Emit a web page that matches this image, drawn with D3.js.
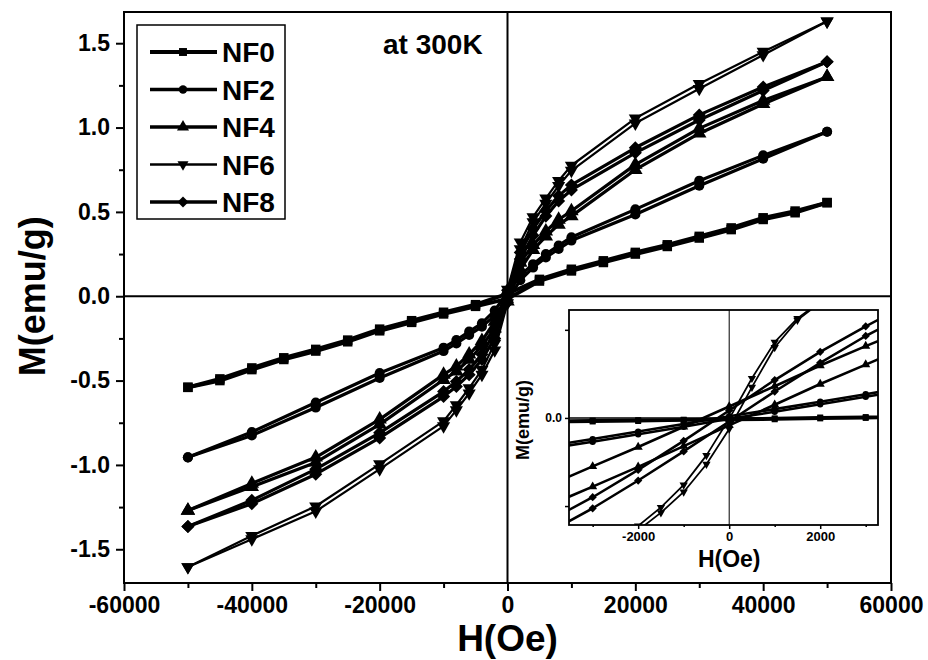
<!DOCTYPE html>
<html>
<head>
<meta charset="utf-8">
<script src="https://cdn.jsdelivr.net/npm/d3@7/dist/d3.min.js"></script>
<style>
  body { margin: 0; background: #fff; }
  text { font-family: "Liberation Sans", Arial, sans-serif; font-weight: bold; fill: #000; }
</style>
</head>
<body>
<svg id="chart" width="928" height="660"></svg>
<script>
// ---- data: M-H loops at 300 K ----
const sampleNames = ["NF0", "NF2", "NF4", "NF6", "NF8"];

// applied field (Oe), sweep order +50 kOe -> -50 kOe
const fieldNF0 = [50000, 45000, 40000, 35000, 30000, 25000, 20000, 15000, 10000, 5000, 0,
                  -5000, -10000, -15000, -20000, -25000, -30000, -35000, -40000, -45000, -50000];
const fieldMain = [50000, 40000, 30000, 20000, 10000, 8000, 6000, 4000, 2000, 0,
                   -2000, -4000, -6000, -8000, -10000, -20000, -30000, -40000, -50000];

// magnetisation (emu/g): descending branch and ascending branch
const nf0Down = [0.555, 0.505, 0.465, 0.405, 0.355, 0.305, 0.26, 0.21, 0.16, 0.10, 0.015,
                 -0.05, -0.095, -0.145, -0.195, -0.26, -0.315, -0.365, -0.425, -0.49, -0.54];
const nf0Up   = [0.555, 0.495, 0.455, 0.395, 0.345, 0.295, 0.25, 0.20, 0.15, 0.09, -0.015,
                 -0.06, -0.105, -0.155, -0.205, -0.27, -0.325, -0.375, -0.435, -0.50, -0.54];
const nf2Down = [0.975, 0.835, 0.685, 0.515, 0.35, 0.30, 0.25, 0.19, 0.125, 0.025,
                 -0.085, -0.16, -0.21, -0.26, -0.305, -0.455, -0.63, -0.805, -0.955];
const nf2Up   = [0.975, 0.815, 0.655, 0.485, 0.33, 0.28, 0.23, 0.17, 0.095, -0.025,
                 -0.115, -0.18, -0.23, -0.28, -0.325, -0.485, -0.66, -0.825, -0.955];
const nf4Down = [1.30, 1.16, 0.995, 0.78, 0.505, 0.455, 0.385, 0.305, 0.20, 0.03,
                 -0.15, -0.265, -0.345, -0.415, -0.465, -0.73, -0.955, -1.11, -1.27];
const nf4Up   = [1.30, 1.14, 0.965, 0.75, 0.475, 0.425, 0.355, 0.275, 0.16, -0.03,
                 -0.19, -0.295, -0.375, -0.445, -0.495, -0.76, -0.985, -1.13, -1.27];
const nf6Down = [1.63, 1.45, 1.26, 1.055, 0.775, 0.685, 0.58, 0.47, 0.32, 0.04,
                 -0.28, -0.435, -0.545, -0.645, -0.74, -0.995, -1.245, -1.42, -1.605];
const nf6Up   = [1.63, 1.43, 1.23, 1.025, 0.745, 0.655, 0.55, 0.44, 0.28, -0.04,
                 -0.32, -0.465, -0.575, -0.675, -0.77, -1.025, -1.275, -1.44, -1.605];
const nf8Down = [1.39, 1.24, 1.075, 0.88, 0.66, 0.595, 0.505, 0.40, 0.26, 0.035,
                 -0.21, -0.345, -0.435, -0.505, -0.565, -0.81, -1.025, -1.21, -1.365];
const nf8Up   = [1.39, 1.22, 1.045, 0.85, 0.63, 0.565, 0.475, 0.36, 0.22, -0.035,
                 -0.25, -0.375, -0.465, -0.535, -0.595, -0.84, -1.055, -1.23, -1.365];

// low-field region (inset)
const insetField    = [-4000, -3000, -2000, -1000, 0, 1000, 2000, 3000, 4000];
const insetFieldNF6 = [-2500, -2000, -1500, -1000, -500, 0, 500, 1000, 1500, 2000, 2500];
const nf0InsetDown = [-0.007, -0.006, -0.005, -0.004, -0.002, -0.001, 0.001, 0.002, 0.003];
const nf0InsetUp   = [-0.009, -0.008, -0.007, -0.005, -0.004, -0.003, -0.001, 0.000, 0.001];
const nf2InsetDown = [-0.064, -0.048, -0.031, -0.014, 0.004, 0.020, 0.037, 0.054, 0.071];
const nf2InsetUp   = [-0.070, -0.054, -0.037, -0.020, -0.002, 0.014, 0.031, 0.048, 0.065];
const nf4InsetDown = [-0.155, -0.110, -0.066, -0.020, 0.026, 0.072, 0.119, 0.163, 0.205];
const nf4InsetUp   = [-0.200, -0.156, -0.111, -0.064, -0.017, 0.030, 0.077, 0.121, 0.165];
const nf8InsetDown = [-0.235, -0.180, -0.118, -0.052, 0.017, 0.086, 0.150, 0.208, 0.262];
const nf8InsetUp   = [-0.262, -0.205, -0.142, -0.076, -0.008, 0.060, 0.125, 0.186, 0.240];
const nf6InsetDown = [-0.282, -0.245, -0.203, -0.152, -0.085, -0.002, 0.090, 0.172, 0.226, 0.264, 0.300];
const nf6InsetUp   = [-0.290, -0.255, -0.215, -0.168, -0.105, -0.025, 0.070, 0.160, 0.222, 0.262, 0.300];

// axis ticks
const xTicks = [-60000, -40000, -20000, 0, 20000, 40000, 60000];
const xMinorTicks = [-50000, -30000, -10000, 10000, 30000, 50000];
const yTicks = [-1.5, -1.0, -0.5, 0.0, 0.5, 1.0, 1.5];
const yMinorTicks = [-1.25, -0.75, -0.25, 0.25, 0.75, 1.25];
const insetXTicks = [-2000, 0, 2000];
const insetXMinorTicks = [-3000, -1000, 1000, 3000];
const insetYTicks = [-0.2, 0.0, 0.2];

// ---- series tables ----
const mainSeries = [
  { name: "NF0", field: fieldNF0,  branches: [nf0Down, nf0Up] },
  { name: "NF2", field: fieldMain, branches: [nf2Down, nf2Up] },
  { name: "NF4", field: fieldMain, branches: [nf4Down, nf4Up] },
  { name: "NF6", field: fieldMain, branches: [nf6Down, nf6Up] },
  { name: "NF8", field: fieldMain, branches: [nf8Down, nf8Up] }
];
const insetSeries = [
  { name: "NF0", field: insetField,    branches: [nf0InsetDown, nf0InsetUp] },
  { name: "NF2", field: insetField,    branches: [nf2InsetDown, nf2InsetUp] },
  { name: "NF4", field: insetField,    branches: [nf4InsetDown, nf4InsetUp] },
  { name: "NF8", field: insetField,    branches: [nf8InsetDown, nf8InsetUp] },
  { name: "NF6", field: insetFieldNF6, branches: [nf6InsetDown, nf6InsetUp] }
];

// marker styles per sample
const markerStyle = {
  NF0: { type: d3.symbolSquare,   rot: 0,   size: 90, width: 3.8 },
  NF2: { type: d3.symbolCircle,   rot: 0,   size: 80, width: 3.2 },
  NF4: { type: d3.symbolTriangle, rot: 0,   size: 90, width: 3.2 },
  NF6: { type: d3.symbolTriangle, rot: 180, size: 75, width: 2.2 },
  NF8: { type: d3.symbolSquare,   rot: 45,  size: 85, width: 3.2 }
};

const svg = d3.select("#chart");

// ---- main plot ----
const plotLeft = 124, plotRight = 891, plotTop = 12, plotBottom = 583;
const x = d3.scaleLinear().domain([-60000, 60000]).range([plotLeft, plotRight]);
const y = d3.scaleLinear().domain([-1.7, 1.685]).range([plotBottom, plotTop]);

// zero lines
svg.append("line").attr("x1", plotLeft).attr("x2", plotRight).attr("y1", y(0)).attr("y2", y(0))
  .attr("stroke", "#000").attr("stroke-width", 2);
svg.append("line").attr("x1", x(0)).attr("x2", x(0)).attr("y1", plotTop).attr("y2", plotBottom)
  .attr("stroke", "#000").attr("stroke-width", 2);

function drawSeries(group, series, xs, ys, sizeScale, widthScale) {
  const line = d3.line().x(d => xs(d[0])).y(d => ys(d[1]));
  series.forEach(s => {
    const st = markerStyle[s.name];
    s.branches.forEach(branch => {
      const pts = s.field.map((h, i) => [h, branch[i]]);
      group.append("path")
        .attr("d", line(pts))
        .attr("fill", "none")
        .attr("stroke", "#000")
        .attr("stroke-width", st.width * widthScale)
        .attr("stroke-linejoin", "round");
      group.selectAll(null).data(pts).join("path")
        .attr("transform", d => `translate(${xs(d[0])},${ys(d[1])}) rotate(${st.rot})`)
        .attr("d", d3.symbol().type(st.type).size(st.size * sizeScale))
        .attr("fill", "#000");
    });
  });
}

const mainG = svg.append("g");
drawSeries(mainG, mainSeries, x, y, 1, 1);

// axes
const xAxis = svg.append("g").attr("transform", `translate(0,${plotBottom})`)
  .call(d3.axisBottom(x).tickValues(xTicks).tickSize(8).tickPadding(6).tickFormat(d => String(d)));
svg.append("g").attr("transform", `translate(0,${plotBottom})`)
  .call(d3.axisBottom(x).tickValues(xMinorTicks).tickSize(5).tickFormat(""));
const yAxis = svg.append("g").attr("transform", `translate(${plotLeft},0)`)
  .call(d3.axisLeft(y).tickValues(yTicks).tickSize(8).tickPadding(6).tickFormat(d => d.toFixed(1)));
svg.append("g").attr("transform", `translate(${plotLeft},0)`)
  .call(d3.axisLeft(y).tickValues(yMinorTicks).tickSize(5).tickFormat(""));
svg.selectAll(".domain").remove();
svg.selectAll(".tick line").attr("stroke", "#000").attr("stroke-width", 2);
xAxis.selectAll("text").attr("font-size", 23).attr("font-family", "Liberation Sans, Arial, sans-serif");
yAxis.selectAll("text").attr("font-size", 23).attr("font-family", "Liberation Sans, Arial, sans-serif");

// frame
svg.append("rect").attr("x", plotLeft).attr("y", plotTop)
  .attr("width", plotRight - plotLeft).attr("height", plotBottom - plotTop)
  .attr("fill", "none").attr("stroke", "#000").attr("stroke-width", 2);

// axis titles
svg.append("text").attr("x", x(0)).attr("y", 651).attr("text-anchor", "middle")
  .attr("font-size", 37).text("H(Oe)");
svg.append("text").attr("transform", `translate(45,${y(0)}) rotate(-90)`).attr("text-anchor", "middle")
  .attr("font-size", 36).text("M(emu/g)");

svg.append("text").attr("x", 383).attr("y", 54).attr("font-size", 28).text("at 300K");

// ---- legend ----
const legend = svg.append("g");
legend.append("rect").attr("x", 137).attr("y", 25).attr("width", 148).attr("height", 194)
  .attr("fill", "#fff").attr("stroke", "#000").attr("stroke-width", 1.5);
const legendY = d3.scalePoint().domain(sampleNames).range([52, 202]);
sampleNames.forEach(name => {
  const st = markerStyle[name];
  const cy = legendY(name);
  legend.append("line").attr("x1", 150).attr("x2", 217).attr("y1", cy).attr("y2", cy)
    .attr("stroke", "#000").attr("stroke-width", st.width + 0.3);
  legend.append("path").attr("transform", `translate(183,${cy}) rotate(${st.rot})`)
    .attr("d", d3.symbol().type(st.type).size(st.size * 0.7)).attr("fill", "#000");
  legend.append("text").attr("x", 222).attr("y", cy + 10).attr("font-size", 28).text(name);
});

// ---- inset: low-field region ----
const iL = 569, iR = 878, iT = 310, iB = 525;
const ix = d3.scaleLinear().domain([-3520, 3270]).range([iL, iR]);
const iy = d3.scaleLinear().domain([-0.243, 0.245]).range([iB, iT]);

const inset = svg.append("g");
inset.append("rect").attr("x", iL).attr("y", iT).attr("width", iR - iL).attr("height", iB - iT)
  .attr("fill", "#fff");
svg.append("clipPath").attr("id", "insetClip").append("rect")
  .attr("x", iL).attr("y", iT).attr("width", iR - iL).attr("height", iB - iT);

const insetPlot = inset.append("g").attr("clip-path", "url(#insetClip)");
insetPlot.append("line").attr("x1", iL).attr("x2", iR).attr("y1", iy(0)).attr("y2", iy(0))
  .attr("stroke", "#000").attr("stroke-width", 1.5);
insetPlot.append("line").attr("x1", ix(0)).attr("x2", ix(0)).attr("y1", iT).attr("y2", iB)
  .attr("stroke", "#000").attr("stroke-width", 1);
drawSeries(insetPlot, insetSeries, ix, iy, 0.4, 0.8);

const ixAxis = inset.append("g").attr("transform", `translate(0,${iB})`)
  .call(d3.axisBottom(ix).tickValues(insetXTicks).tickSize(4).tickPadding(3).tickFormat(d => String(d)));
inset.append("g").attr("transform", `translate(0,${iB})`)
  .call(d3.axisBottom(ix).tickValues(insetXMinorTicks).tickSize(2).tickFormat(""));
const iyAxis = inset.append("g").attr("transform", `translate(${iL},0)`)
  .call(d3.axisLeft(iy).tickValues(insetYTicks).tickSize(4).tickPadding(3)
    .tickFormat(d => d === 0 ? "0.0" : ""));
inset.selectAll(".domain").remove();
inset.selectAll(".tick line").attr("stroke", "#000").attr("stroke-width", 1.5);
ixAxis.selectAll("text").attr("font-size", 13).attr("font-family", "Liberation Sans, Arial, sans-serif");
iyAxis.selectAll("text").attr("font-size", 12).attr("font-family", "Liberation Sans, Arial, sans-serif");

inset.append("rect").attr("x", iL).attr("y", iT).attr("width", iR - iL).attr("height", iB - iT)
  .attr("fill", "none").attr("stroke", "#000").attr("stroke-width", 1.8);

inset.append("text").attr("x", ix(0)).attr("y", 567).attr("text-anchor", "middle")
  .attr("font-size", 23).text("H(Oe)");
inset.append("text").attr("transform", `translate(529,420) rotate(-90)`).attr("text-anchor", "middle")
  .attr("font-size", 18).text("M(emu/g)");
</script>
</body>
</html>
